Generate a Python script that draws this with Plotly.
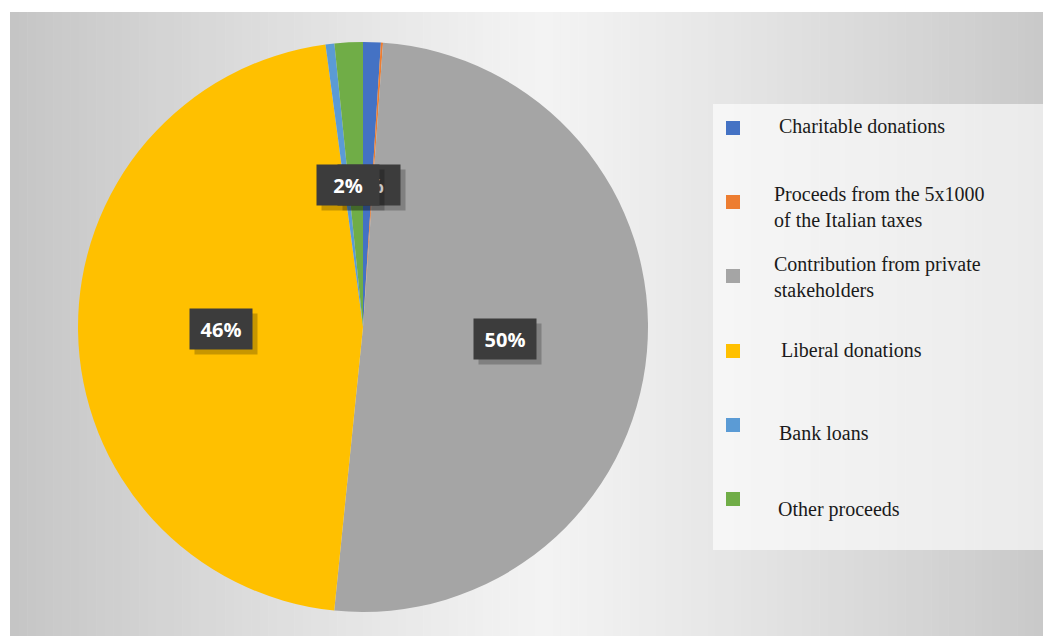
import math
import plotly.graph_objects as go

# ---- data ----
categories = [
    "Charitable donations",
    "Proceeds from the 5x1000<br>of the Italian taxes",
    "Contribution from private<br>stakeholders",
    "Liberal donations",
    "Bank loans",
    "Other proceeds",
]
values = [1.0, 0.12, 50.5, 46.3, 0.5, 1.6]
colors = ["#4472C4", "#ED7D31", "#A5A5A5", "#FFC000", "#5B9BD5", "#70AD47"]

# ---- geometry (pixels) ----
W, H = 1043, 636
CX, CY, R = 363, 327, 285


def px(x):
    return x / W


def py(y):
    return 1 - y / H


fig = go.Figure()
fig.add_trace(go.Pie(
    labels=[c.replace("<br>", " ") for c in categories],
    values=values,
    marker=dict(colors=colors, line=dict(width=0)),
    sort=False,
    direction="clockwise",
    rotation=0,
    textinfo="none",
    hoverinfo="label+percent",
    showlegend=False,
    domain=dict(x=[px(CX - R), px(CX + R)], y=[py(CY + R), py(CY - R)]),
))

shapes = []
# background: horizontal gradient built from vertical strips
x0, x1, ytop = 10, W, 12
n = 120
gc = 545
for i in range(n):
    a = x0 + (x1 - x0) * i / n
    b = x0 + (x1 - x0) * (i + 1) / n + 0.6
    m = (a + b) / 2
    d = min(1.0, abs(m - gc) / 535)
    v = int(round(243 - (243 - 197) * d ** 1.15))
    shapes.append(dict(type="rect", xref="paper", yref="paper", layer="below",
                       x0=px(a), x1=px(min(b, W)), y0=0, y1=py(ytop),
                       fillcolor=f"rgb({v},{v},{v})", line=dict(width=0)))
# legend panel
shapes.append(dict(type="rect", xref="paper", yref="paper", layer="below",
                   x0=px(713), x1=1, y0=py(550), y1=py(104),
                   fillcolor="rgba(255,255,255,0.62)", line=dict(width=0)))

annotations = []

# data labels (computed from slice values)
total = sum(values)
cum = 0.0
label_items = []
for v, c in zip(values, categories):
    start = cum
    cum += v
    pct = round(v / total * 100)
    if pct >= 1:
        mid = (start + v / 2) / total * 2 * math.pi
        lx = CX + 0.5 * R * math.sin(mid)
        ly = CY - 0.5 * R * math.cos(mid)
        label_items.append((lx, ly, f"{pct:d}%"))
# draw the 1% first so the 2% box sits over it, as in the reference
label_items.sort(key=lambda t: t[2] != "1%")

for lx, ly, txt in label_items:
    if txt == "2%":
        lx -= 8
    elif txt == "1%":
        lx += 2
    annotations.append(dict(x=px(lx + 5), y=py(ly + 5), xref="paper", yref="paper",
                            xanchor="center", yanchor="middle",
                            text=txt, showarrow=False, width=60, height=38,
                            bgcolor="rgba(0,0,0,0.22)",
                            font=dict(color="rgba(0,0,0,0)", size=20)))
    annotations.append(dict(x=px(lx), y=py(ly), xref="paper", yref="paper",
                            xanchor="center", yanchor="middle",
                            text=f"<b>{txt}</b>", showarrow=False, width=60, height=38,
                            bgcolor="#3c3c3c",
                            font=dict(color="white", size=20, family="Open Sans")))

# manual legend
row_y = [128, 202, 276, 351, 425, 499]
text_dy = [-2, 5, 1, -1, 8, 10]
text_x = [779, 774, 774, 781, 779, 778]
for i, (cat, col) in enumerate(zip(categories, colors)):
    yy = row_y[i]
    shapes.append(dict(type="rect", xref="paper", yref="paper",
                       x0=px(726), x1=px(740), y0=py(yy + 7), y1=py(yy - 7),
                       fillcolor=col, line=dict(width=0)))
    lines = cat.split("<br>")
    nl = len(lines)
    for j, ln in enumerate(lines):
        ty = yy + text_dy[i] + (j - (nl - 1) / 2) * 26
        annotations.append(dict(x=px(text_x[i] - 2), y=py(ty), xref="paper", yref="paper",
                                xanchor="left", yanchor="middle", text=ln, showarrow=False,
                                font=dict(family="Liberation Serif", size=20, color="#1a1a1a")))

fig.update_layout(
    width=W, height=H,
    margin=dict(l=0, r=0, t=0, b=0),
    paper_bgcolor="white",
    plot_bgcolor="white",
    shapes=shapes,
    annotations=annotations,
)

fig.write_html("out.html",
               config={"displayModeBar": False},
               post_script="document.body.style.margin='0';document.body.style.overflow='hidden';")
